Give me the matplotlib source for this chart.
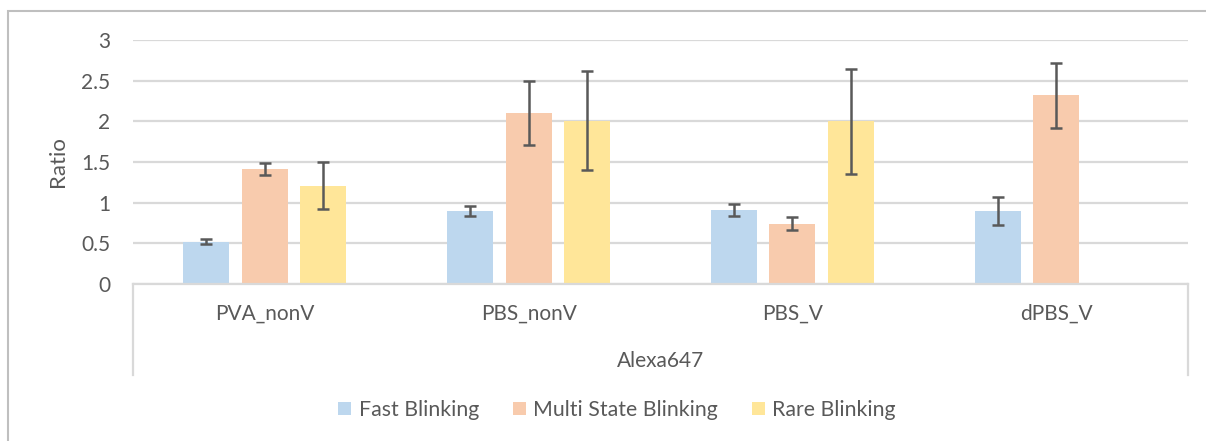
import numpy as np
import matplotlib
matplotlib.use("Agg")
import matplotlib.pyplot as plt
from matplotlib.patches import Patch, Rectangle
from matplotlib.lines import Line2D
from matplotlib.ticker import FuncFormatter

# Blinking ratios per buffer condition (Alexa647)
categories = ["PVA_nonV", "PBS_nonV", "PBS_V", "dPBS_V"]
series_names = ["Fast Blinking", "Multi State Blinking", "Rare Blinking"]
fast = [0.52, 0.90, 0.91, 0.90]
multi = [1.41, 2.10, 0.74, 2.32]
rare = [1.21, 2.01, 2.00, np.nan]
fast_err = [0.03, 0.065, 0.075, 0.17]
multi_err = [0.075, 0.395, 0.08, 0.40]
rare_err = [0.29, 0.61, 0.645, np.nan]
x_title = "Alexa647"
y_title = "Ratio"

colors = ["#BDD7EE", "#F8CBAD", "#FFE699"]
text_color = "#595959"
grid_color = "#D9D9D9"

plt.rcParams["font.family"] = ["Lato", "DejaVu Sans"]

fig = plt.figure(figsize=(12.06, 4.41), dpi=100)
ax = fig.add_axes([133 / 1206, 1 - 284 / 441, (1188 - 133) / 1206, (284 - 40) / 441])

x = np.arange(len(categories))
width = 0.174
step = 0.222
values = [fast, multi, rare]
errors = [fast_err, multi_err, rare_err]
for i, (vals, errs, col) in enumerate(zip(values, errors, colors)):
    pos = x + (i - 1) * step
    ax.bar(pos, vals, width=width, color=col, zorder=2)
    ax.errorbar(pos, vals, yerr=errs, fmt="none", ecolor=text_color,
                elinewidth=1.8, capsize=4.5, capthick=1.8, zorder=3)

ax.set_xlim(-0.5, len(categories) - 0.5)
ax.set_ylim(0, 3)
ax.set_yticks(np.arange(0, 3.01, 0.5))
ax.yaxis.set_major_formatter(FuncFormatter(lambda v, p: f"{v:g}"))
ax.yaxis.grid(True, color=grid_color, linewidth=1.6, zorder=0)
ax.set_axisbelow(True)
for s in ["top", "right", "left"]:
    ax.spines[s].set_visible(False)
ax.spines["bottom"].set_color(grid_color)
ax.spines["bottom"].set_linewidth(1.6)
ax.tick_params(axis="both", length=0, labelsize=15, colors=text_color)
ax.tick_params(axis="x", pad=14)
ax.tick_params(axis="y", pad=16.5)
ax.set_xticks(x)
ax.set_xticklabels(categories)
ax.set_ylabel(y_title, fontsize=16, color=text_color, labelpad=9)

# category axis frame below the plot area
frame_depth = (375 - 284) / (284 - 40)
for xa in (0, 1):
    ax.add_line(Line2D([xa, xa], [0, -frame_depth], transform=ax.transAxes,
                       color=grid_color, linewidth=1.6, clip_on=False))
ax.text(0.5, -(361 - 284) / (284 - 40), x_title, transform=ax.transAxes,
        ha="center", va="center", fontsize=15, color=text_color)

# outer chart border
fig.patches.append(Rectangle((8 / 1206, -0.1), 1.2, 1.1 - 11 / 441,
                             transform=fig.transFigure, fill=False,
                             edgecolor="#BFBFBF", linewidth=1.5))

handles = [Patch(facecolor=c, edgecolor="none") for c in colors]
leg = fig.legend(handles, series_names, loc="center",
                 bbox_to_anchor=(617 / 1206, 1 - 410 / 441), ncol=3,
                 frameon=False, fontsize=15.3, handlelength=0.6, handleheight=0.6,
                 handletextpad=0.35, columnspacing=1.6, borderpad=0)
for t in leg.get_texts():
    t.set_color(text_color)

fig.savefig("out.png", dpi=100)
